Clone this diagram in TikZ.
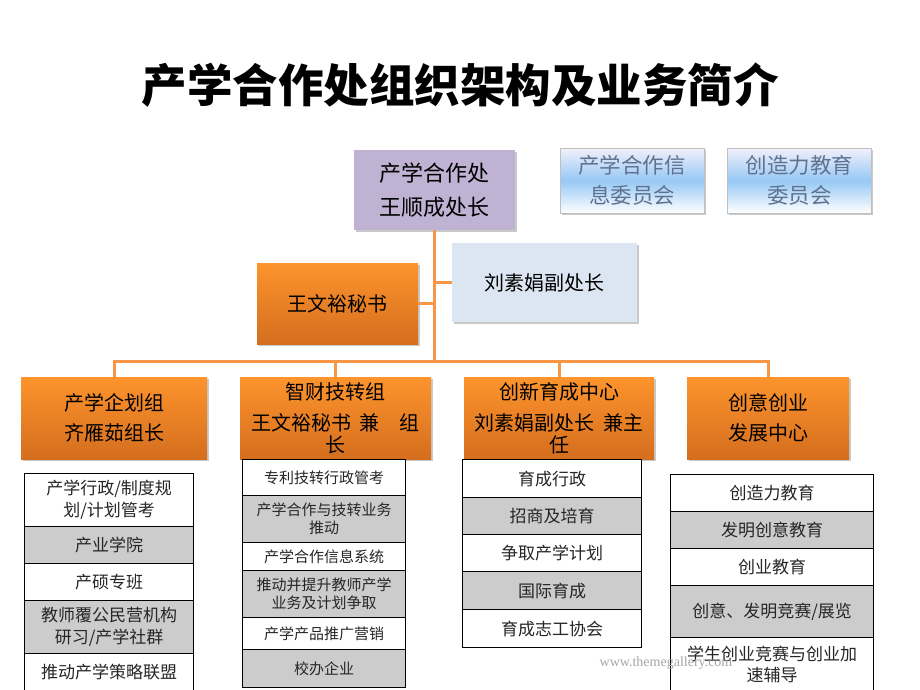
\documentclass[tikz,border=0pt]{standalone}
\usepackage{fontspec}
\setmainfont{Noto Sans CJK SC}
\newfontfamily\wmfont{Liberation Serif}
\usetikzlibrary{shadows}
\definecolor{orTop}{RGB}{253,148,45}
\definecolor{orBot}{RGB}{212,110,30}
\definecolor{lineOr}{RGB}{247,150,70}
\definecolor{purp}{RGB}{191,178,210}
\definecolor{paleblue}{RGB}{220,230,242}
\definecolor{rowgray}{RGB}{204,204,204}
\definecolor{cmtblue}{RGB}{150,200,245}
\definecolor{cmttop}{RGB}{242,240,250}
\definecolor{cmttext}{RGB}{95,115,145}
\tikzset{
  shad/.style={drop shadow={shadow xshift=1.5pt, shadow yshift=-1.5pt, opacity=0.35, fill=black!60}},
  box/.style={inner sep=0pt, align=center, shad},
  orbox/.style={box, top color=orTop, bottom color=orBot, text=black},
  cmtbox/.style={box, top color=cmttop, bottom color=white, middle color=cmtblue, draw=gray!50, line width=0.8pt, text=cmttext,
    minimum width=144pt, minimum height=65pt, font=\fontsize{21.5}{30}\selectfont},
  grpbox/.style={orbox, minimum height=82pt, font=\fontsize{20}{30}\selectfont},
  conn/.style={draw=lineOr, line width=3pt},
  listrow/.style={draw=black, line width=1.3pt, inner sep=0pt, align=center, anchor=north west, text=black!85},
  whiterow/.style={listrow, fill=white},
  grayrow/.style={listrow, fill=rowgray},
  colA/.style={minimum width=169pt, font=\fontsize{17}{22}\selectfont},
  colB/.style={minimum width=163pt, font=\fontsize{15}{18}\selectfont},
  colC/.style={minimum width=179pt, font=\fontsize{17}{22}\selectfont},
  colD/.style={minimum width=203pt, font=\fontsize{17}{21}\selectfont},
}
\begin{document}
\begin{tikzpicture}[x=1pt,y=-1pt]
\useasboundingbox (0,0) rectangle (920,690);
\fill[white] (0,0) rectangle (920,690);

% title
\node[font=\bfseries\fontsize{45.5}{45.5}\selectfont] (title) at (460,85) {产学合作处组织架构及业务简介};

% top level
\node[box, fill=purp, minimum width=161pt, minimum height=80pt, font=\fontsize{22}{34}\selectfont] (chief) at (434.5,190) {产学合作处\\王顺成处长};
\node[cmtbox] (cmt1) at (632,180.5) {产学合作信\\息委员会};
\node[cmtbox] (cmt2) at (799.5,180.5) {创造力教育\\委员会};

\node[box, fill=paleblue, minimum width=185pt, minimum height=79pt, font=\fontsize{20}{24}\selectfont] (liu) at (544.5,282.5) {刘素娟副处长};
\node[orbox, minimum width=161pt, minimum height=81pt, font=\fontsize{20}{24}\selectfont] (wang) at (337.5,303.5) {王文裕秘书};

% groups
\node[grpbox, minimum width=186pt] (g1) at (114,418) {产学企划组\\齐雁茹组长};
\node[grpbox, minimum width=191pt, font=\fontsize{20}{22}\selectfont] (g2) at (335.5,418) {智财技转组\\[9pt]王文裕秘书\ \ 兼\quad 组\\长};
\node[grpbox, minimum width=190pt, font=\fontsize{20}{22}\selectfont] (g3) at (559,418) {创新育成中心\\[9pt]刘素娟副处长\ \ 兼主\\任};
\node[grpbox, minimum width=162pt] (g4) at (768,418) {创意创业\\发展中心};

% connectors
\coordinate (bus) at (434.5,361);
\draw[conn] (chief.south) -- (bus);
\draw[conn] (chief.south) |- (liu.west);
\draw[conn] (chief.south) |- (wang.east);
\draw[conn] (bus) -| (g1.north);
\draw[conn] (bus) -| (g2.north);
\draw[conn] (bus) -| (g3.north);
\draw[conn] (bus) -| (g4.north);

% column 1
\node[whiterow, colA, minimum height=53pt] (a1) at (24,473) {产学行政/制度规\\划/计划管考};
\node[grayrow, colA, minimum height=37pt] (a2) at (24,526) {产业学院};
\node[whiterow, colA, minimum height=37pt] (a3) at (24,563) {产硕专班};
\node[grayrow, colA, minimum height=53pt] (a4) at (24,600) {教师覆公民营机构\\研习/产学社群};
\node[whiterow, colA, minimum height=37pt] (a5) at (24,653) {推动产学策略联盟};

% column 2
\node[whiterow, colB, minimum height=36pt] (b1) at (242,459) {专利技转行政管考};
\node[grayrow, colB, minimum height=47pt] (b2) at (242,495) {产学合作与技转业务\\推动};
\node[whiterow, colB, minimum height=28pt] (b3) at (242,542) {产学合作信息系统};
\node[grayrow, colB, minimum height=47pt] (b4) at (242,570) {推动并提升教师产学\\业务及计划争取};
\node[whiterow, colB, minimum height=32pt] (b5) at (242,617) {产学产品推广营销};
\node[grayrow, colB, minimum height=38pt] (b6) at (242,649) {校办企业};

% column 3
\node[whiterow, colC, minimum height=38pt] (c1) at (462,459) {育成行政};
\node[grayrow, colC, minimum height=37pt] (c2) at (462,497) {招商及培育};
\node[whiterow, colC, minimum height=37pt] (c3) at (462,534) {争取产学计划};
\node[grayrow, colC, minimum height=38pt] (c4) at (462,571) {国际育成};
\node[whiterow, colC, minimum height=38pt] (c5) at (462,609) {育成志工协会};

% column 4
\node[whiterow, colD, minimum height=37pt] (d1) at (670,474) {创造力教育};
\node[grayrow, colD, minimum height=37pt] (d2) at (670,511) {发明创意教育};
\node[whiterow, colD, minimum height=37pt] (d3) at (670,548) {创业教育};
\node[grayrow, colD, minimum height=52pt] (d4) at (670,585) {创意、发明竞赛/展览};
\node[whiterow, colD, minimum height=53pt] (d5) at (670,637) {学生创业竞赛与创业加\\速辅导};

% watermark
\node[font=\wmfont\fontsize{14}{14}\selectfont, text=gray!70] (wm) at (666,663) {www.themegallery.com};
\end{tikzpicture}
\end{document}
